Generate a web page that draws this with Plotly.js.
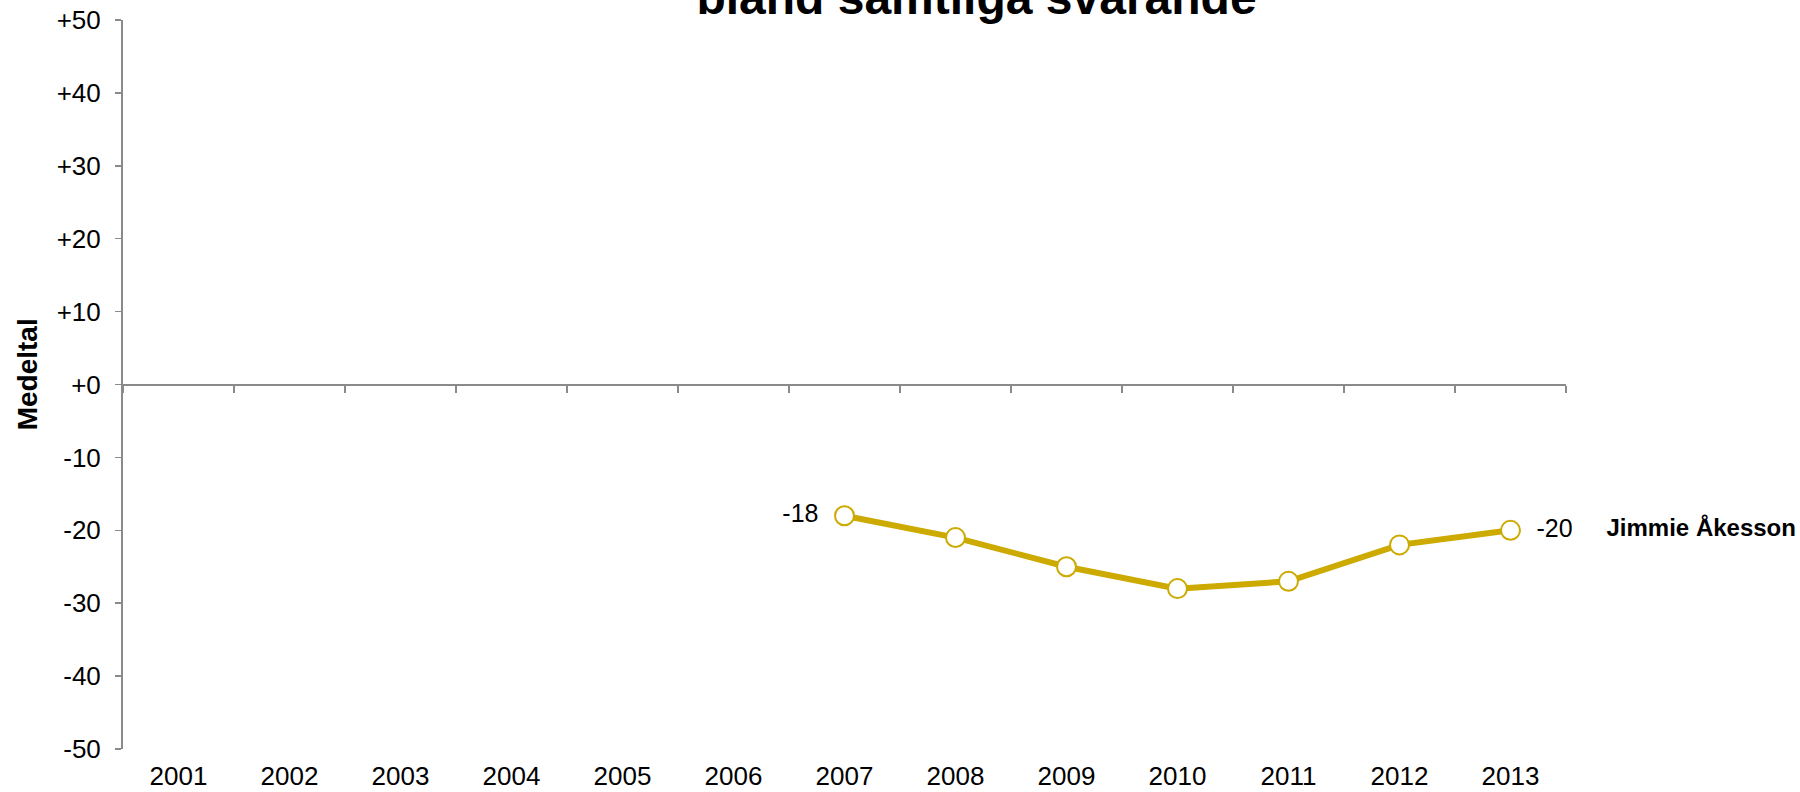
<!DOCTYPE html>
<html>
<head>
<meta charset="utf-8">
<script src="https://cdn.plot.ly/plotly-3.0.1.min.js"></script>
<style>html,body{margin:0;padding:0;background:#fff;}#chart{width:1800px;height:792px;}</style>
</head>
<body>
<div id="chart"></div>
<script>
var years = ['2001','2002','2003','2004','2005','2006','2007','2008','2009','2010','2011','2012','2013'];
var akesson = [null, null, null, null, null, null, -18, -21, -25, -28, -27, -22, -20];
var seriesName = 'Jimmie Åkesson';
var yTickVals = [50, 40, 30, 20, 10, 0, -10, -20, -30, -40, -50];
var yTickText = ['+50', '+40', '+30', '+20', '+10', '+0', '-10', '-20', '-30', '-40', '-50'];
var titleText = 'bland samtliga svarande';
var yTitle = 'Medeltal';

var gold = '#CCAA00';
var axisGray = '#8a8a8a';
var font = 'Liberation Sans, Arial, sans-serif';

var firstIdx = akesson.findIndex(function(v){return v !== null;});
var lastIdx = akesson.length - 1;
while (akesson[lastIdx] === null) lastIdx--;

var fmt = function(v){ return (v > 0 ? '+' : '') + v; };

var traces = [
  {
    x: years, y: years.map(function(){return 0;}), type: 'scatter', mode: 'lines',
    xaxis: 'x2', yaxis: 'y', line: {width: 0}, opacity: 0,
    hoverinfo: 'skip', showlegend: false
  },
  {
    x: years, y: akesson, type: 'scatter', mode: 'lines+markers',
    xaxis: 'x', yaxis: 'y',
    line: {color: gold, width: 6},
    marker: {size: 19, color: '#ffffff', line: {color: gold, width: 2}},
    hoverinfo: 'x+y', showlegend: false, cliponaxis: false
  },
  {
    x: [years[firstIdx], years[lastIdx]], y: [akesson[firstIdx], akesson[lastIdx]],
    text: [fmt(akesson[firstIdx]), fmt(akesson[lastIdx])],
    type: 'scatter', mode: 'markers+text', xaxis: 'x', yaxis: 'y',
    textposition: ['middle left', 'middle right'],
    marker: {size: 40, color: 'rgba(0,0,0,0)'},
    textfont: {family: font, size: 25, color: '#000'},
    hoverinfo: 'skip', showlegend: false, cliponaxis: false
  },
  {
    x: [years[lastIdx]], y: [akesson[lastIdx]],
    text: ['<b>' + seriesName + '</b>'],
    type: 'scatter', mode: 'markers+text', xaxis: 'x', yaxis: 'y',
    textposition: 'middle right',
    marker: {size: 152, color: 'rgba(0,0,0,0)'},
    textfont: {family: font, size: 24, color: '#000'},
    hoverinfo: 'skip', showlegend: false, cliponaxis: false
  }
];

var layout = {
  width: 1800, height: 792,
  paper_bgcolor: '#ffffff', plot_bgcolor: '#ffffff',
  margin: {l: 123, r: 234, t: 20, b: 43, pad: 0},
  font: {family: font, color: '#000'},
  title: {
    text: '<b>' + titleText + '</b>',
    font: {family: font, size: 48, color: '#000'},
    xref: 'container', yref: 'container',
    x: 0.5425, xanchor: 'center', y: 0.982, yanchor: 'bottom'
  },
  showlegend: false,
  xaxis: {
    type: 'category', categoryorder: 'array', categoryarray: years,
    range: [-0.5, years.length - 0.5],
    showline: false, showgrid: false, zeroline: false, ticks: '',
    tickfont: {family: font, size: 26, color: '#000'},
    ticklabelstandoff: 9,
    fixedrange: true
  },
  xaxis2: {
    type: 'category', categoryorder: 'array', categoryarray: years,
    range: [-0.5, years.length - 0.5],
    overlaying: 'x', anchor: 'free', position: 0.5,
    showline: true, linecolor: axisGray, linewidth: 2,
    ticks: 'outside', tickson: 'boundaries', ticklen: 7, tickcolor: axisGray, tickwidth: 1.5,
    showticklabels: false, showgrid: false, zeroline: false
  },
  yaxis: {
    range: [-50, 50], tickvals: yTickVals, ticktext: yTickText,
    showline: true, linecolor: axisGray, linewidth: 2,
    ticks: 'outside', ticklen: 6, tickcolor: axisGray, tickwidth: 1.5,
    showgrid: false, zeroline: false,
    tickfont: {family: font, size: 26, color: '#000'},
    ticklabelstandoff: 9,
    fixedrange: true
  },
  annotations: [
    {text: '<b>' + yTitle + '</b>', xref: 'paper', yref: 'paper', x: -0.0665, y: 0.514,
     xanchor: 'center', yanchor: 'middle', textangle: -90, showarrow: false,
     font: {family: font, size: 28, color: '#000'}}
  ]
};

Plotly.newPlot('chart', traces, layout, {displayModeBar: false, staticPlot: true});
</script>
</body>
</html>
